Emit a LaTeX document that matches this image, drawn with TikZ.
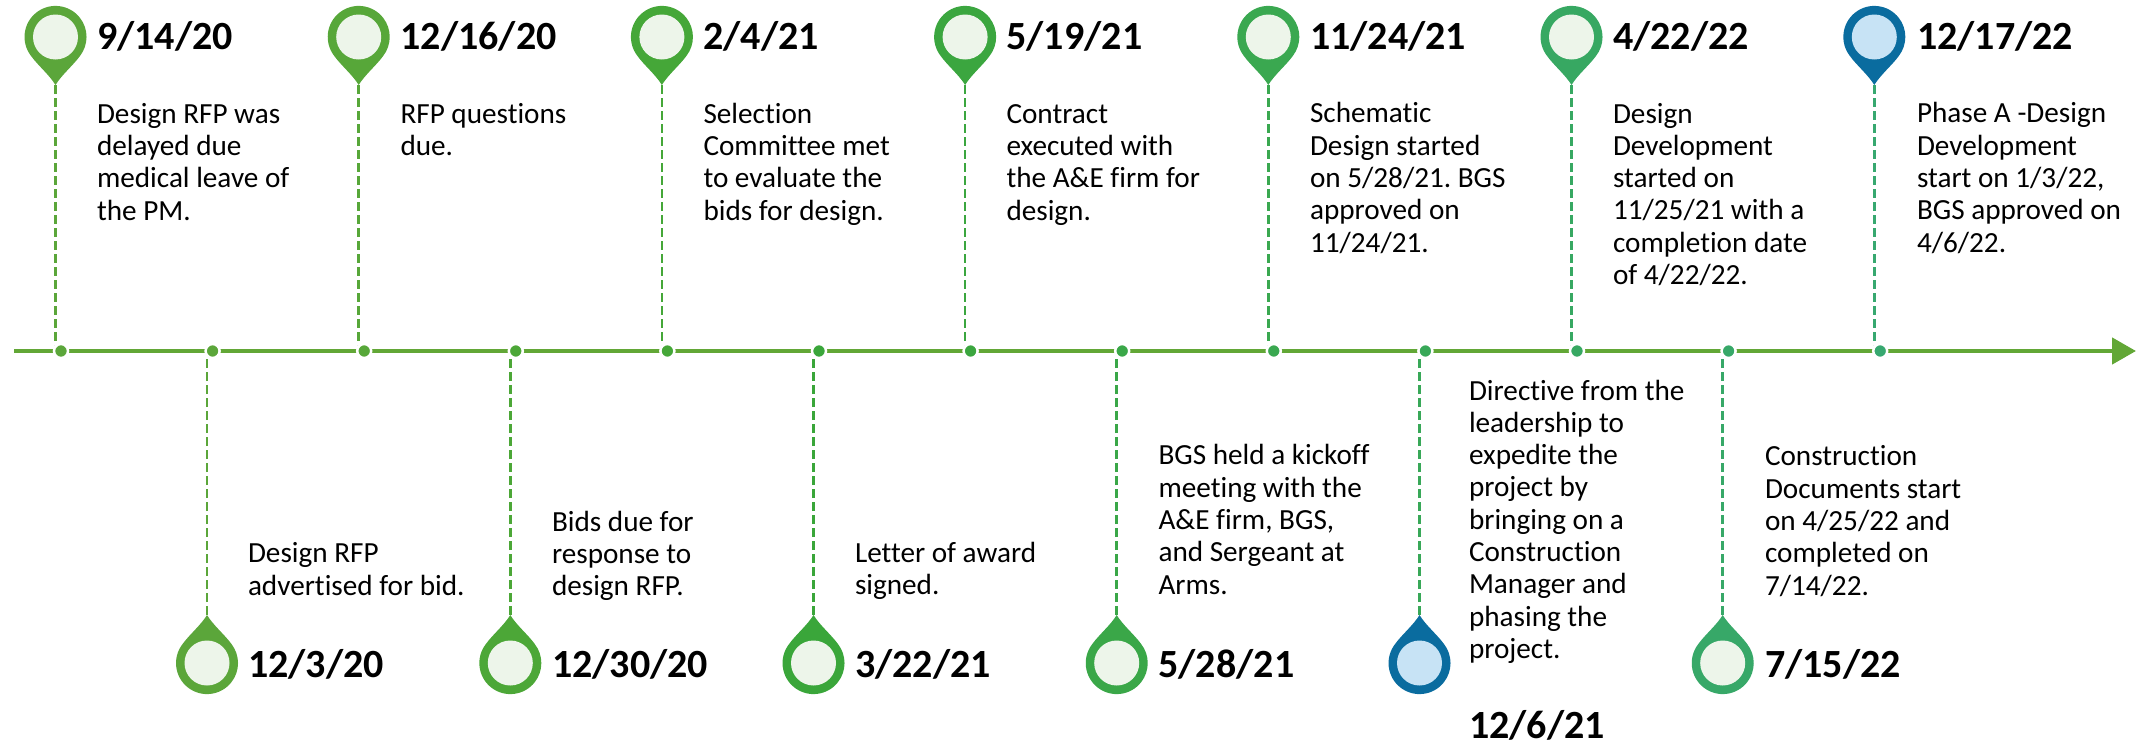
\documentclass[tikz,border=0pt]{standalone}
\usepackage{fontspec}
\setmainfont{Carlito}[Ligatures=NoCommon]
\usetikzlibrary{arrows.meta}
\frenchspacing
\definecolor{axisgreen}{HTML}{62A736}
\definecolor{ca}{HTML}{5BA63A}
\definecolor{cb}{HTML}{57A739}
\definecolor{cc}{HTML}{4CA737}
\definecolor{cd}{HTML}{45A738}
\definecolor{ce}{HTML}{3AA63A}
\definecolor{cf}{HTML}{3BA63F}
\definecolor{cg}{HTML}{3AA748}
\definecolor{ch}{HTML}{3AA850}
\definecolor{ci}{HTML}{38A858}
\definecolor{cj}{HTML}{37A862}
\definecolor{ck}{HTML}{37A868}
\definecolor{cl}{HTML}{37A870}
\definecolor{pinblue}{HTML}{0A6C9F}
\definecolor{palegreen}{HTML}{EDF5EA}
\definecolor{paleblue}{HTML}{C7E3F5}
\tikzset{
  pintop/.pic={\fill [pic actions] (0,-48) .. controls (-6,-38) and (-18,-28) .. (-24.4,-19) arc [start angle=218, end angle=-38, radius=31] .. controls (18,-28) and (6,-38) .. cycle;},
  pinbot/.pic={\fill [pic actions] (0,48) .. controls (-6,38) and (-18,28) .. (-24.4,19) arc [start angle=142, end angle=398, radius=31] .. controls (18,28) and (6,38) .. cycle;}
}
\begin{document}
\begin{tikzpicture}[x=1pt, y=1pt]
\tikzstyle{every node}+=[inner sep=0pt, outer sep=0pt]
\tikzstyle{face}=[circle, minimum size=45pt, fill=palegreen]
\tikzstyle{bullet}=[circle, minimum size=14pt, draw=white, line width=2.5pt]
\tikzstyle{stem}=[line width=2.7pt, dash pattern=on 9pt off 4pt]
\tikzstyle{date}=[anchor=base west, font=\fontsize{40}{48}\selectfont\bfseries]
\tikzstyle{note}=[anchor=base west, align=left, font=\fontsize{29.2}{32.3}\selectfont]
\useasboundingbox (0,0) rectangle (2136,-744);
\coordinate (axstart) at (14,-351);
\coordinate (axend) at (2136,-351);
\draw [axisgreen, line width=4.6pt, -{Triangle[length=24pt, width=26pt]}] (axstart) -- (axend);
\coordinate (t1) at (55.5,-85);
\coordinate (e1) at (55.5,-345);
\coordinate (t2) at (207,-615);
\coordinate (e2) at (207,-357);
\coordinate (t3) at (358.7,-85);
\coordinate (e3) at (358.7,-345);
\coordinate (t4) at (510.3,-615);
\coordinate (e4) at (510.3,-357);
\coordinate (t5) at (661.9,-85);
\coordinate (e5) at (661.9,-345);
\coordinate (t6) at (813.5,-615);
\coordinate (e6) at (813.5,-357);
\coordinate (t7) at (965.1,-85);
\coordinate (e7) at (965.1,-345);
\coordinate (t8) at (1116.7,-615);
\coordinate (e8) at (1116.7,-357);
\coordinate (t9) at (1268.3,-85);
\coordinate (e9) at (1268.3,-345);
\coordinate (t10) at (1419.5,-615);
\coordinate (e10) at (1419.5,-357);
\coordinate (t11) at (1571.5,-85);
\coordinate (e11) at (1571.5,-345);
\coordinate (t12) at (1722.7,-615);
\coordinate (e12) at (1722.7,-357);
\coordinate (t13) at (1874.3,-85);
\coordinate (e13) at (1874.3,-345);
\draw [ca, stem] (t1) -- (e1);
\draw [ca, stem] (t2) -- (e2);
\draw [cb, stem] (t3) -- (e3);
\draw [cc, stem] (t4) -- (e4);
\draw [cd, stem] (t5) -- (e5);
\draw [ce, stem] (t6) -- (e6);
\draw [cf, stem] (t7) -- (e7);
\draw [cg, stem] (t8) -- (e8);
\draw [ch, stem] (t9) -- (e9);
\draw [ci, stem] (t10) -- (e10);
\draw [cj, stem] (t11) -- (e11);
\draw [ck, stem] (t12) -- (e12);
\draw [cl, stem] (t13) -- (e13);
\node [bullet, fill=ca] (d1) at (61,-351) {};
\node [bullet, fill=ca] (d2) at (212.6,-351) {};
\node [bullet, fill=cb] (d3) at (364.2,-351) {};
\node [bullet, fill=cc] (d4) at (515.8,-351) {};
\node [bullet, fill=cd] (d5) at (667.4,-351) {};
\node [bullet, fill=ce] (d6) at (819,-351) {};
\node [bullet, fill=cf] (d7) at (970.6,-351) {};
\node [bullet, fill=cg] (d8) at (1122.2,-351) {};
\node [bullet, fill=ch] (d9) at (1273.8,-351) {};
\node [bullet, fill=ci] (d10) at (1425.4,-351) {};
\node [bullet, fill=cj] (d11) at (1577,-351) {};
\node [bullet, fill=ck] (d12) at (1728.6,-351) {};
\node [bullet, fill=cl] (d13) at (1880.2,-351) {};
\pic [fill=ca] at (55.5,-37) {pintop};
\pic [fill=ca] at (207,-663) {pinbot};
\pic [fill=cb] at (358.7,-37) {pintop};
\pic [fill=cc] at (510.3,-663) {pinbot};
\pic [fill=cd] at (661.9,-37) {pintop};
\pic [fill=ce] at (813.5,-663) {pinbot};
\pic [fill=cf] at (965.1,-37) {pintop};
\pic [fill=cg] at (1116.7,-663) {pinbot};
\pic [fill=ch] at (1268.3,-37) {pintop};
\pic [fill=pinblue] at (1419.5,-663) {pinbot};
\pic [fill=cj] at (1571.5,-37) {pintop};
\pic [fill=ck] at (1722.7,-663) {pinbot};
\pic [fill=pinblue] at (1874.3,-37) {pintop};
\node [face] (f1) at (55.5,-37) {};
\node [face] (f2) at (207,-663) {};
\node [face] (f3) at (358.7,-37) {};
\node [face] (f4) at (510.3,-663) {};
\node [face] (f5) at (661.9,-37) {};
\node [face] (f6) at (813.5,-663) {};
\node [face] (f7) at (965.1,-37) {};
\node [face] (f8) at (1116.7,-663) {};
\node [face] (f9) at (1268.3,-37) {};
\node [face, fill=paleblue] (f10) at (1419.5,-663) {};
\node [face] (f11) at (1571.5,-37) {};
\node [face] (f12) at (1722.7,-663) {};
\node [face, fill=paleblue] (f13) at (1874.3,-37) {};
\node [date] (date1) at (97,-49) {9/14/20};
\node [date] (date2) at (248,-677) {12/3/20};
\node [date] (date3) at (400.5,-49) {12/16/20};
\node [date] (date4) at (552,-677) {12/30/20};
\node [date] (date5) at (703.5,-49) {2/4/21};
\node [date] (date6) at (855,-677) {3/22/21};
\node [date] (date7) at (1006.5,-49) {5/19/21};
\node [date] (date8) at (1158.5,-677) {5/28/21};
\node [date] (date9) at (1310,-49) {11/24/21};
\node [date] (date10) at (1469,-738) {12/6/21};
\node [date] (date11) at (1613,-49) {4/22/22};
\node [date] (date12) at (1765,-677) {7/15/22};
\node [date] (date13) at (1917,-49) {12/17/22};
\node [note] (note1) at (97,-220) {Design RFP was\\delayed due\\medical leave of\\the PM.};
\node [note] (note2) at (248,-595) {Design RFP\\advertised for bid.};
\node [note] (note3) at (400.5,-155.3) {RFP questions\\due.};
\node [note] (note4) at (552,-595.6) {Bids due for\\response to\\design RFP.};
\node [note] (note5) at (703.5,-220) {Selection\\Committee met\\to evaluate the\\bids for design.};
\node [note] (note6) at (855,-594.6) {Letter of award\\signed.};
\node [note] (note7) at (1006.5,-220) {Contract\\executed with\\the A\&E firm for\\design.};
\node [note] (note8) at (1158.5,-594) {BGS held a kickoff\\meeting with the\\A\&E firm, BGS,\\and Sergeant at\\Arms.};
\node [note] (note9) at (1310,-252) {Schematic\\Design started\\on 5/28/21. BGS\\approved on\\11/24/21.};
\node [note] (note10) at (1469,-658.4) {Directive from the\\leadership to\\expedite the\\project by\\bringing on a\\Construction\\Manager and\\phasing the\\project.};
\node [note] (note11) at (1613,-284.5) {Design\\Development\\started on\\11/25/21 with a\\completion date\\of 4/22/22.};
\node [note] (note12) at (1765,-595) {Construction\\Documents start\\on 4/25/22 and\\completed on\\7/14/22.};
\node [note] (note13) at (1917,-252) {Phase A -Design\\Development\\start on 1/3/22,\\BGS approved on\\4/6/22.};
\end{tikzpicture}
\end{document}
